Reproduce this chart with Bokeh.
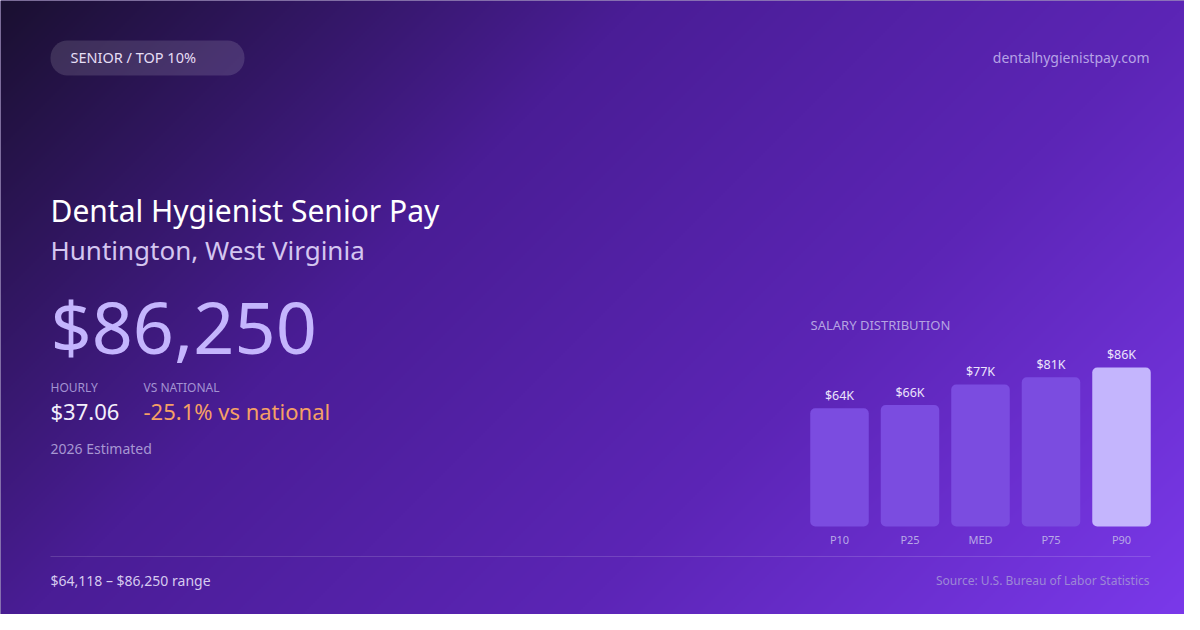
import numpy as np
from bokeh.plotting import figure
from bokeh.models import Range1d
from bokeh.core.properties import value
from bokeh.embed import file_html
from bokeh.resources import INLINE

# ---------------- data ----------------
badge_label = "SENIOR / TOP 10%"
site_name = "dentalhygienistpay.com"
title_text = "Dental Hygienist Senior Pay"
location_text = "Huntington, West Virginia"
annual_text = "$86,250"
hourly_label = "HOURLY"
hourly_value = "$37.06"
vs_label = "VS NATIONAL"
vs_value = "-25.1% vs national"
estimate_note = "2026 Estimated"
range_note = "$64,118 \u2013 $86,250 range"
source_note = "Source: U.S. Bureau of Labor Statistics"
chart_title = "SALARY DISTRIBUTION"
percentiles = ["P10", "P25", "MED", "P75", "P90"]
salaries = [64118, 65900, 77000, 81000, 86250]
salary_labels = ["$64K", "$66K", "$77K", "$81K", "$86K"]

# ---------------- layout / style ----------------
W, H, M = 1200, 630, 8
PW, PH = W - 2 * M, H - 2 * M
FONT = "Noto Sans"


def Y(ref_y):
    return H - ref_y


p = figure(width=PW, height=PH,
           x_range=Range1d(0, PW), y_range=Range1d(H - PH, H),
           x_axis_type=None, y_axis_type=None,
           output_backend="svg", toolbar_location=None, min_border=0)
p.grid.visible = False
p.outline_line_color = None
p.background_fill_color = "#3a1a78"
p.border_fill_color = "#3a1a78"

# background diagonal gradient (135deg)
gw, gh = 600, 315
gx = (np.arange(gw) + 0.5) * W / gw
gy = (np.arange(gh) + 0.5) * H / gh
t = (gx[None, :] + gy[:, None]) / (W + H)
stops_t = [0.0, 0.35, 0.65, 1.0]
stops_c = [(0x1a, 0x10, 0x30), (0x4a, 0x1d, 0x96), (0x5c, 0x25, 0xb6), (0x7c, 0x3a, 0xed)]
img = np.empty((gh, gw), dtype=np.uint32)
view = img.view(dtype=np.uint8).reshape((gh, gw, 4))
for ch in range(3):
    view[:, :, ch] = np.interp(t, stops_t, [c[ch] for c in stops_c]).astype(np.uint8)
view[:, :, 3] = 255
p.image_rgba(image=[img[::-1]], x=0, y=0, dw=W, dh=H)


def txt(x, yc, s, size, color, align="left"):
    # yc: vertical centre of the capitals, in page pixels from the top
    p.text(x=[x], y=[Y(yc - 0.07 * size)], text=[s], text_font=value(FONT),
           text_font_size=value(f"{size}px"), text_color=color,
           text_align=align, text_baseline="middle")


# badge pill
p.quad(left=50, right=244, top=Y(40), bottom=Y(75), fill_color="white",
       fill_alpha=0.13, line_color=None, border_radius=17)
txt(70, 58, badge_label, 14.5, "#e6def5")
txt(1149, 58, site_name, 14, "#b6a2e6", align="right")

# headline block
txt(50, 212, title_text, 30, "#ffffff")
txt(50, 251.5, location_text, 26, "#d4c6f0")
txt(50, 331, annual_text, 72, "#c4b5fd")
txt(50, 387.5, hourly_label, 12, "#a393d2")
txt(143, 387.5, vs_label, 12, "#a393d2")
txt(50, 412.5, hourly_value, 22, "#f3effb")
txt(143, 412.5, vs_value, 22, "#f5a065")
txt(50, 449, estimate_note, 14, "#a797d2")

# salary distribution chart
txt(810, 325, chart_title, 13, "#b5a3e2")
first_center, step, bar_w = 839.0, 70.5, 58.5
base_ref, chart_h = 526.0, 159.0
k = max(salaries) / chart_h
p.extra_x_ranges = {"cat": Range1d((0 - first_center) / step, (PW - first_center) / step)}
p.extra_y_ranges = {"sal": Range1d((H - PH - Y(base_ref)) * k, (H - Y(base_ref)) * k)}
idx = list(range(len(percentiles)))
colors = ["#7b4ce0"] * (len(percentiles) - 1) + ["#c4b5fd"]
p.vbar(x=idx, top=salaries, bottom=0, width=bar_w / step, fill_color=colors,
       line_color=None, border_radius=5, x_range_name="cat", y_range_name="sal")
p.text(x=idx, y=salaries, text=salary_labels, x_range_name="cat", y_range_name="sal",
       text_font=value(FONT), text_font_size=value("12.5px"), text_color="#ece4fb",
       text_align="center", text_baseline="middle", y_offset=-13)
p.text(x=idx, y=[0] * len(idx), text=percentiles, x_range_name="cat", y_range_name="sal",
       text_font=value(FONT), text_font_size=value("11px"), text_color="#b8a9e6",
       text_align="center", text_baseline="middle", y_offset=13)

# footer
p.segment(x0=[50], y0=[Y(556)], x1=[1150], y1=[Y(556)], line_color="white",
          line_alpha=0.15, line_width=1)
txt(50, 581, range_note, 14, "#d6cbef")
txt(1149, 581, source_note, 12, "#9d88d6", align="right")

open("out.html", "w").write(file_html(p, INLINE))
